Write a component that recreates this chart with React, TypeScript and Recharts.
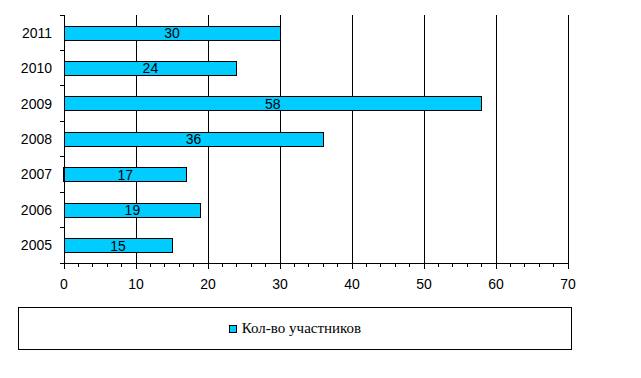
import { BarChart, Bar, XAxis, YAxis, CartesianGrid, LabelList, Legend } from 'recharts'

// data
const years = ['2011', '2010', '2009', '2008', '2007', '2006', '2005']
const participants = [30, 24, 58, 36, 17, 19, 15]
const seriesName = 'Кол-во участников'
const xTicks = [0, 2, 4, 6, 8, 10, 12, 14, 16, 18, 20, 22, 24, 26, 28, 30, 32, 34, 36, 38, 40, 42, 44, 46, 48, 50, 52, 54, 56, 58, 60, 62, 64, 66, 68, 70]
const gridValues = [10, 20, 30, 40, 50, 60, 70]

const data = years.map((year, i) => ({ year, value: participants[i] }))

const W = 641
const H = 378
const MARGIN = { top: 15, right: 73, bottom: 42, left: 0 }
const X_AXIS_H = 30
const LEGEND_H = 43
const PLOT_H = H - MARGIN.top - MARGIN.bottom - X_AXIS_H - LEGEND_H
const FONT = '"Liberation Sans", Arial, sans-serif'

const YearTick = (props: any) => {
  const { x, y, payload, index } = props
  const half = PLOT_H / years.length / 2
  return (
    <g>
      <line x1={x - 4} x2={x} y1={y - half} y2={y - half} stroke="#000" />
      {index === years.length - 1 && <line x1={x - 4} x2={x} y1={y + half} y2={y + half} stroke="#000" />}
      <text x={x - 12} y={y} dy={5} textAnchor="end" fontSize={14} fontFamily={FONT} fill="#000">
        {payload.value}
      </text>
    </g>
  )
}

const ValueTick = (props: any) => {
  const { x, y, payload } = props
  const major = payload.value % 10 === 0
  return (
    <g>
      <line x1={x} x2={x} y1={y} y2={y + (major ? 6 : 4)} stroke="#000" />
      {major && (
        <text x={x} y={y + 26} textAnchor="middle" fontSize={14} fontFamily={FONT} fill="#000">
          {payload.value}
        </text>
      )}
    </g>
  )
}

const LegendBox = (props: any) => {
  const { payload = [] } = props
  return (
    <div
      style={{
        boxSizing: 'border-box',
        width: 554,
        height: LEGEND_H,
        border: '1px solid #000',
        display: 'flex',
        alignItems: 'center',
        justifyContent: 'center',
        fontFamily: '"Liberation Serif", "Times New Roman", "DejaVu Serif", serif',
        fontSize: 15,
        color: '#000',
      }}
    >
      {payload.map((p: any) => (
        <span key={p.value} style={{ display: 'flex', alignItems: 'center' }}>
          <span
            style={{
              display: 'inline-block',
              boxSizing: 'border-box',
              width: 8,
              height: 8,
              background: p.color,
              border: '1px solid #000',
              marginRight: 5,
            }}
          />
          {p.value}
        </span>
      ))}
    </div>
  )
}

export default function App() {
  return (
    <div style={{ position: 'absolute', left: 0, top: 0, width: W, height: H, background: '#fff' }}>
      <style>{`svg line, svg path, svg rect { shape-rendering: crispEdges; }`}</style>
      <BarChart width={W} height={H} data={data} layout="vertical" margin={MARGIN}>
        <CartesianGrid horizontal={false} verticalValues={gridValues} stroke="#000" />
        <XAxis
          type="number"
          domain={[0, 70]}
          ticks={xTicks}
          interval={0}
          height={X_AXIS_H}
          tickSize={0}
          tickMargin={0}
          tickLine={false}
          tick={<ValueTick />}
          axisLine={{ stroke: '#000' }}
        />
        <XAxis
          xAxisId="top"
          orientation="top"
          type="number"
          domain={[0, 70]}
          height={0}
          tick={false}
          tickLine={false}
          axisLine={{ stroke: '#000' }}
        />
        <YAxis
          type="category"
          dataKey="year"
          width={64}
          tickSize={0}
          tickMargin={0}
          tickLine={false}
          tick={<YearTick />}
          axisLine={{ stroke: '#000' }}
        />
        <Legend
          content={<LegendBox />}
          verticalAlign="bottom"
          height={LEGEND_H}
          wrapperStyle={{ left: 18, top: 307, width: 554, height: LEGEND_H }}
        />
        <Bar dataKey="value" name={seriesName} fill="#00CCFF" stroke="#000" strokeWidth={1} barSize={14} isAnimationActive={false}>
          <LabelList dataKey="value" position="center" fill="#000" fontSize={14} fontFamily={FONT} />
        </Bar>
      </BarChart>
    </div>
  )
}
